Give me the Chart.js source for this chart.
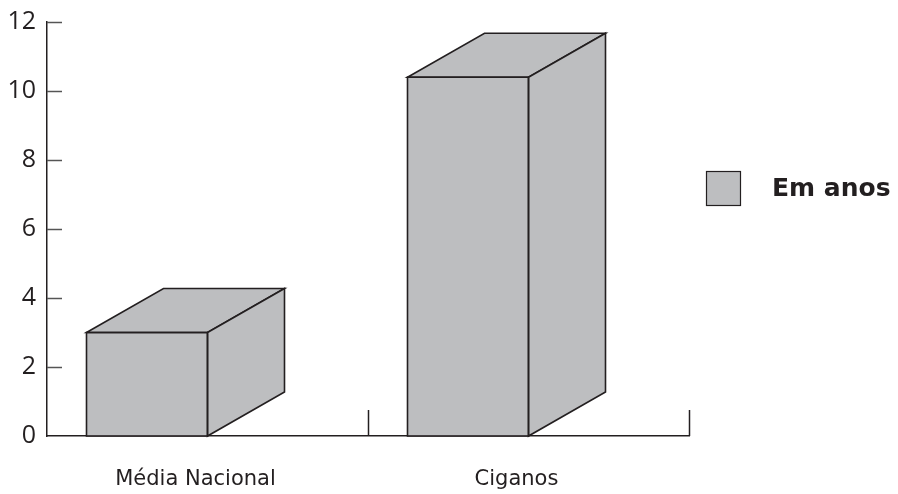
<!DOCTYPE html>
<html>
<head>
<meta charset="utf-8">
<style>
  html, body { margin: 0; padding: 0; background: #ffffff; }
  #wrap { width: 898px; height: 494px; position: relative; }
</style>
<script src="https://cdn.jsdelivr.net/npm/chart.js@4/dist/chart.umd.min.js"></script>
</head>
<body>
<div id="wrap"><canvas id="chart" width="898" height="494"></canvas></div>
<script>
// Anos de vida: média nacional vs. ciganos
const categories = ['Média Nacional', 'Ciganos'];
const valores = [3, 10.4];
const serieLabel = 'Em anos';
const yTicks = [0, 2, 4, 6, 8, 10, 12];

const FILL = '#bdbec0';
const INK = '#231f20';
const FONT = '"DejaVu Sans", Verdana, sans-serif';
const NUM_FONT = '"Open Sans", "DejaVu Sans", sans-serif';
const DEPTH_X = 77;
const DEPTH_Y = -44;

// Top and side faces of each box, built from the bar element's own geometry
const box3d = {
  id: 'box3d',
  afterDatasetsDraw(chart) {
    const ctx = chart.ctx;
    const meta = chart.getDatasetMeta(0);
    ctx.save();
    ctx.fillStyle = FILL;
    ctx.strokeStyle = INK;
    ctx.lineWidth = 1.6;
    ctx.lineJoin = 'miter';
    meta.data.forEach(bar => {
      const p = bar.getProps(['x', 'y', 'base', 'width'], true);
      const x0 = p.x - p.width / 2, x1 = p.x + p.width / 2;
      const yt = p.y, yb = p.base;
      // top face
      ctx.beginPath();
      ctx.moveTo(x0, yt);
      ctx.lineTo(x0 + DEPTH_X, yt + DEPTH_Y);
      ctx.lineTo(x1 + DEPTH_X, yt + DEPTH_Y);
      ctx.lineTo(x1, yt);
      ctx.closePath();
      ctx.fill(); ctx.stroke();
      // side face
      ctx.beginPath();
      ctx.moveTo(x1, yt);
      ctx.lineTo(x1 + DEPTH_X, yt + DEPTH_Y);
      ctx.lineTo(x1 + DEPTH_X, yb + DEPTH_Y);
      ctx.lineTo(x1, yb);
      ctx.closePath();
      ctx.fill(); ctx.stroke();
      // front outline
      ctx.strokeRect(x0, yt, x1 - x0, yb - yt);
    });
    ctx.restore();
  }
};

// Short inward tick marks on both axes
const innerTicks = {
  id: 'innerTicks',
  afterDraw(chart) {
    const ctx = chart.ctx;
    const ys = chart.scales.y, xs = chart.scales.x;
    const area = chart.chartArea;
    ctx.save();
    ctx.lineWidth = 1.5;
    ctx.strokeStyle = '#555555';
    ys.ticks.forEach(t => {
      if (t.value === 0) return;
      const y = Math.round(ys.getPixelForValue(t.value)) + 0.5;
      ctx.beginPath();
      ctx.moveTo(area.left, y);
      ctx.lineTo(area.left + 15, y);
      ctx.stroke();
    });
    ctx.strokeStyle = INK;
    const n = categories.length;
    for (let i = 0; i < n; i++) {
      let x;
      if (i < n - 1) x = (xs.getPixelForTick(i) + xs.getPixelForTick(i + 1)) / 2;
      else x = area.right;
      x = Math.round(x) + 0.5;
      ctx.beginPath();
      ctx.moveTo(x, area.bottom);
      ctx.lineTo(x, area.bottom - 26);
      ctx.stroke();
    }
    ctx.restore();
  }
};

// Legend drawn beside the plot
const sideLegend = {
  id: 'sideLegend',
  afterDraw(chart) {
    const ctx = chart.ctx;
    const ds = chart.data.datasets[0];
    const bx = chart.chartArea.right + 17, by = 171, size = 35;
    ctx.save();
    ctx.fillStyle = ds.backgroundColor;
    ctx.fillRect(bx, by, size, size);
    ctx.strokeStyle = INK;
    ctx.lineWidth = 1.2;
    ctx.strokeRect(bx + 0.5, by + 0.5, size - 1, size - 1);
    ctx.fillStyle = INK;
    ctx.font = 'bold 25px ' + FONT;
    ctx.textBaseline = 'middle';
    ctx.textAlign = 'left';
    ctx.fillText(ds.label, bx + size + 31, by + size / 2 + 1);
    ctx.restore();
  }
};

new Chart(document.getElementById('chart'), {
  type: 'bar',
  data: {
    labels: categories,
    datasets: [
      {
        label: serieLabel,
        data: valores,
        backgroundColor: FILL,
        borderWidth: 0,
        barThickness: 121
      },
      {
        // empty slot that keeps each box left of its category centre
        label: '',
        data: categories.map(() => null),
        backgroundColor: 'rgba(0,0,0,0)',
        borderWidth: 0,
        barThickness: 121
      }
    ]
  },
  options: {
    responsive: false,
    animation: false,
    layout: { padding: { top: 22, right: 209, left: 0, bottom: 0 } },
    plugins: {
      legend: { display: false },
      tooltip: { enabled: false }
    },
    scales: {
      x: {
        grid: { display: false, drawTicks: false },
        border: { display: true, color: INK, width: 1.5 },
        ticks: {
          color: INK,
          font: { family: FONT, size: 21 },
          padding: 31,
          labelOffset: -12
        },
        afterFit(scale) {
          scale.height = 58;
          scale.paddingLeft = 0;
          scale.paddingRight = 0;
        }
      },
      y: {
        min: 0,
        max: 12,
        afterBuildTicks(scale) { scale.ticks = yTicks.map(v => ({ value: v })); },
        grid: { display: false, drawTicks: false },
        border: { display: true, color: INK, width: 1.5 },
        ticks: {
          color: INK,
          font: { family: NUM_FONT, size: 25 },
          padding: 11
        },
        afterFit(scale) {
          scale.width = 47;
          scale.paddingTop = 0;
          scale.paddingBottom = 0;
        }
      }
    }
  },
  plugins: [box3d, innerTicks, sideLegend]
});
</script>
</body>
</html>
